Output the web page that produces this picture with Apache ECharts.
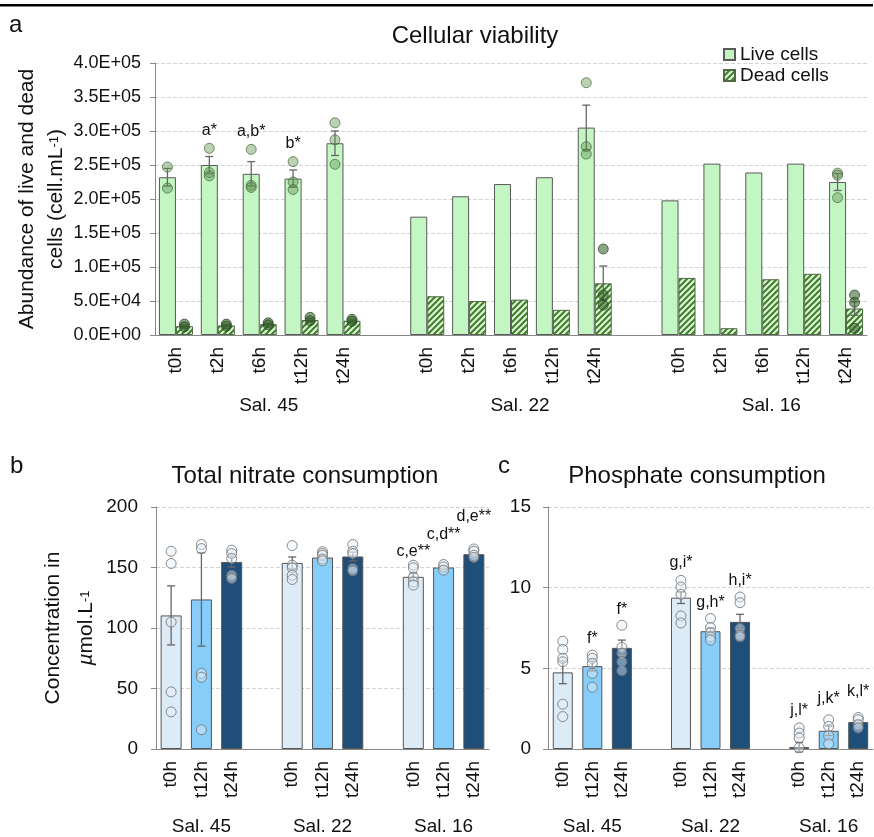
<!DOCTYPE html>
<html>
<head>
<meta charset="utf-8">
<script src="https://cdn.jsdelivr.net/npm/echarts@6/dist/echarts.min.js"></script>
<style>
  html, body { margin: 0; padding: 0; background: #fff; }
  #chart { width: 874px; height: 837px; }
</style>
</head>
<body>
<div id="chart"></div>
<script>
// ---- data ----
const salinities = ['Sal. 45', 'Sal. 22', 'Sal. 16']
const timesA = ['t0h', 't2h', 't6h', 't12h', 't24h']
const timesBC = ['t0h', 't12h', 't24h']

// a: cellular viability (cell.mL-1), 3 salinities x 5 times
const liveCells = [
  232000, 250000, 237000, 230000, 282000,
  174000, 204000, 222000, 232000, 305000,
  198000, 252000, 239000, 252000, 225000,
]
const deadCells = [
  13000, 14000, 16000, 22000, 21000,
  57000, 50000, 52000, 37000, 76000,
  84000, 10000, 82000, 90000, 39000,
]
const liveErr = [
  13000, 12500, 18000, 12700, 18000,
  0, 0, 0, 0, 33000,
  0, 0, 0, 0, 12500,
]
const deadErr = [
  1500, 1200, 1200, 2000, 1200,
  0, 0, 0, 0, 25500,
  0, 0, 0, 0, 10000,
]
const livePoints = [
  [247000, 216000], [274500, 239000, 234000], [273000, 220000, 217000], [255000, 225000, 214000], [312000, 287000, 251000],
  [], [], [], [], [371000, 277000, 266000],
  [], [], [], [], [238000, 235000, 202000],
]
const deadPoints = [
  [16000, 12000], [16000, 13000], [18000, 15000], [26000, 21000], [23000, 20000],
  [], [], [], [], [126500, 59000, 44000],
  [], [], [], [], [58800, 48000, 9800],
]
const liveNotes = ['', 'a*', 'a,b*', 'b*', '', '', '', '', '', '', '', '', '', '', '']

// b: total nitrate consumption (µmol.L-1), 3 salinities x 3 times
const nitrate = [110.4, 123.6, 154.6, 153.8, 158.2, 159.1, 142.3, 150.0, 161.0]
const nitrateErr = [24.4, 38.6, 4.2, 4.9, 2.0, 3.6, 3.0, 1.2, 1.4]
const nitratePoints = [
  [163.4, 153.3, 104.9, 47.2, 30.7],
  [169.0, 165.6, 62.6, 59.3, 15.9],
  [164.3, 161.5, 157.4, 143.6, 140.9],
  [168.1, 151.9, 149.7, 143.6, 140.1],
  [163.0, 161.5, 160.0, 157.0, 155.5],
  [169.0, 163.4, 161.5, 149.2, 147.2],
  [151.9, 149.7, 142.0, 138.1, 135.4],
  [152.5, 150.5, 147.8],
  [165.3, 163.4, 160.1, 158.2],
]
const nitrateNotes = ['', '', '', '', '', '', 'c,e**', 'c,d**', 'd,e**']

// c: phosphate consumption (µmol.L-1)
const phosphate = [4.75, 5.14, 6.27, 9.38, 7.30, 7.88, 0.12, 1.13, 1.67]
const phosphateErr = [0.7, 0.3, 0.48, 0.36, 0.2, 0.47, 0.3, 0.3, 0.12]
const phosphatePoints = [
  [6.68, 6.17, 5.62, 5.41, 2.78, 2.01],
  [5.82, 5.62, 5.31, 4.69, 3.83],
  [7.67, 6.30, 5.93, 5.41, 4.85],
  [10.45, 10.04, 9.59, 8.25, 7.81],
  [8.09, 7.53, 7.20, 6.95, 6.75],
  [9.42, 9.07, 7.47, 7.06, 6.95],
  [1.31, 0.99, 0.68, 0.08],
  [1.81, 1.40, 0.82, 0.33],
  [1.95, 1.81, 1.50, 1.30],
]
const phosphateNotes = ['', 'f*', 'f*', 'g,i*', 'g,h*', 'h,i*', 'j,l*', 'j,k*', 'k,l*']

// ---- helpers ----
const FONT = '"Liberation Sans", Arial, Helvetica, sans-serif'
const timeColors = ['#ddebf7', '#87cdf9', '#1f4e79']

// category labels with an empty slot between salinity groups
const withGaps = (times) => salinities.flatMap((s, gi) => gi < salinities.length - 1 ? [...times, ''] : times)
const groupRow = (times) => salinities.flatMap((s, gi) => {
  const row = times.map((t, ti) => ti === Math.floor(times.length / 2) ? s : '')
  return gi < salinities.length - 1 ? [...row, ''] : row
})
const catIndex = (k, n) => Math.floor(k / n) * (n + 1) + (k % n)
const spread = (vals, n) => {
  const out = []
  vals.forEach((v, k) => { out[catIndex(k, n)] = v })
  for (let i = 0; i < out.length; i++) if (out[i] === undefined) out[i] = '-'
  return out
}
const pointData = (pts, n) => pts.flatMap((list, k) => list.map(v => [catIndex(k, n), v]))
const errData = (vals, errs, n) => vals.map((v, k) => [catIndex(k, n), v, errs[k]]).filter(d => d[2] > 0)
const noteData = (notes, pts, n) => notes.map((t, k) => [catIndex(k, n), Math.max(...pts[k]), k]).filter(d => notes[d[2]])

function hatch() {
  const c = document.createElement('canvas')
  c.width = 6; c.height = 6
  const g = c.getContext('2d')
  g.fillStyle = '#dcf5d3'
  g.fillRect(0, 0, 6, 6)
  g.strokeStyle = '#3f7d2c'
  g.lineWidth = 2
  g.beginPath()
  g.moveTo(0, 6); g.lineTo(6, 0)
  g.moveTo(-3, 3); g.lineTo(3, -3)
  g.moveTo(3, 9); g.lineTo(9, 3)
  g.stroke()
  return c
}

function errorBars(xi, data, shift) {
  return {
    type: 'custom', xAxisIndex: xi, yAxisIndex: xi, z: 3, silent: true,
    encode: { x: 0, y: 1 },
    data,
    renderItem(params, api) {
      const i = api.value(0), m = api.value(1), e = api.value(2)
      const hi = api.coord([i, m + e]), lo = api.coord([i, m - e])
      const x = hi[0] + shift, cap = 4
      const st = { stroke: '#666', lineWidth: 1.3 }
      return {
        type: 'group', children: [
          { type: 'line', shape: { x1: x, y1: hi[1], x2: x, y2: lo[1] }, style: st },
          { type: 'line', shape: { x1: x - cap, y1: hi[1], x2: x + cap, y2: hi[1] }, style: st },
          { type: 'line', shape: { x1: x - cap, y1: lo[1], x2: x + cap, y2: lo[1] }, style: st },
        ],
      }
    },
  }
}

function noteTexts(xi, data, labels, lifts, shift) {
  return {
    type: 'custom', xAxisIndex: xi, yAxisIndex: xi, z: 6, silent: true,
    encode: { x: 0, y: 1 },
    data,
    renderItem(params, api) {
      const k = api.value(2)
      const p = api.coord([api.value(0), api.value(1)])
      return {
        type: 'text', x: p[0] + shift, y: p[1] - lifts[k],
        style: { text: labels[k], fill: '#111', font: '16px ' + FONT, align: 'center', verticalAlign: 'middle' },
      }
    },
  }
}

const pointStyle = { color: 'rgba(228,238,250,0.55)', borderColor: '#6f6f6f', borderWidth: 1 }

function catAxis(grid, data, extra) {
  return Object.assign({
    type: 'category', gridIndex: grid, data,
    axisLine: { lineStyle: { color: '#888' } },
    axisTick: { alignWithLabel: true, length: 5, lineStyle: { color: '#888' } },
    axisLabel: { interval: 0, rotate: 90, fontSize: 19, color: '#111', margin: 12, fontFamily: FONT },
  }, extra)
}
function groupAxis(grid, data, offset, pad) {
  return {
    type: 'category', gridIndex: grid, data, position: 'bottom', offset,
    axisLine: { show: false }, axisTick: { show: false }, splitLine: { show: false },
    axisLabel: { interval: 0, fontSize: 19, color: '#111', margin: 8, fontFamily: FONT, padding: [0, 0, 0, pad] },
  }
}
function valAxis(grid, max, interval, extra) {
  return Object.assign({
    type: 'value', gridIndex: grid, min: 0, max, interval,
    nameMoveOverlap: false,
    axisLine: { show: true, lineStyle: { color: '#888' } },
    axisTick: { show: true, length: 5, lineStyle: { color: '#888' } },
    splitLine: { lineStyle: { color: '#d4d4d4', type: 'dashed' } },
  }, extra)
}

const sci = (v) => {
  if (v === 0) return '0.0E+00'
  const e = Math.floor(Math.log10(v) + 1e-9)
  return (v / Math.pow(10, e)).toFixed(1) + 'E+' + String(e).padStart(2, '0')
}

const nA = timesA.length, nB = timesBC.length
const liftA = liveNotes.map(() => 18)
const liftB = [0, 0, 0, 0, 0, 0, 14, 30, 32]
const liftC = [0, 17, 16, 18, 16, 16, 17, 21, 26]

const chart = echarts.init(document.getElementById('chart'))
chart.setOption({
  animation: false,
  textStyle: { fontFamily: FONT },
  graphic: [
    { type: 'rect', shape: { x: 0, y: 4, width: 873, height: 2.5 }, style: { fill: '#000' } },
    { type: 'text', x: 9, y: 25, style: { text: 'a', font: '24px ' + FONT, fill: '#111', verticalAlign: 'middle' } },
    { type: 'text', x: 10, y: 466, style: { text: 'b', font: '24px ' + FONT, fill: '#111', verticalAlign: 'middle' } },
    { type: 'text', x: 498, y: 466, style: { text: 'c', font: '24px ' + FONT, fill: '#111', verticalAlign: 'middle' } },
    { type: 'text', x: 475, y: 36, style: { text: 'Cellular viability', font: '24px ' + FONT, fill: '#111', align: 'center', verticalAlign: 'middle' } },
    { type: 'text', x: 305, y: 476, style: { text: 'Total nitrate consumption', font: '24px ' + FONT, fill: '#111', align: 'center', verticalAlign: 'middle' } },
    { type: 'text', x: 697, y: 476, style: { text: 'Phosphate consumption', font: '24px ' + FONT, fill: '#111', align: 'center', verticalAlign: 'middle' } },
  ],
  legend: {
    data: ['Live cells', 'Dead cells'], orient: 'vertical', left: 718, top: 40,
    icon: 'rect', itemWidth: 11, itemHeight: 11, itemGap: 2,
    textStyle: { fontSize: 19, color: '#111', fontFamily: FONT },
  },
  grid: [
    { left: 155, top: 63, width: 712, height: 272 },
    { left: 156, top: 507, width: 333, height: 242 },
    { left: 548, top: 507, width: 325, height: 242 },
  ],
  xAxis: [
    catAxis(0, withGaps(timesA)),
    catAxis(1, withGaps(timesBC)),
    catAxis(2, withGaps(timesBC)),
    groupAxis(0, groupRow(timesA), 53, 18),
    groupAxis(1, groupRow(timesBC), 60, 0),
    groupAxis(2, groupRow(timesBC), 60, 0),
  ],
  yAxis: [
    valAxis(0, 400000, 50000, {
      axisLabel: { fontSize: 18, color: '#111', margin: 14, formatter: sci, fontFamily: FONT },
      name: '{t|Abundance of live and dead}\n{t|cells (cell.mL}{s|-1}{t|)}',
      nameLocation: 'middle', nameGap: 84,
      nameTextStyle: {
        rich: {
          t: { fontSize: 21, color: '#111', fontFamily: FONT, lineHeight: 29 },
          s: { fontSize: 13, color: '#111', fontFamily: FONT, verticalAlign: 'bottom', padding: [0, 0, 10, 0], lineHeight: 29 },
        },
      },
    }),
    valAxis(1, 200, 50, {
      axisLabel: { fontSize: 19, color: '#111', margin: 18, fontFamily: FONT },
      name: '{t|Concentration in}\n{i|µ}{t|mol.L}{s|-1}',
      nameLocation: 'middle', nameGap: 53,
      nameTextStyle: {
        rich: {
          t: { fontSize: 21, color: '#111', fontFamily: FONT, lineHeight: 33 },
          i: { fontSize: 21, color: '#111', fontFamily: FONT, fontStyle: 'italic', lineHeight: 33 },
          s: { fontSize: 13, color: '#111', fontFamily: FONT, verticalAlign: 'bottom', padding: [0, 0, 11, 0], lineHeight: 33 },
        },
      },
    }),
    valAxis(2, 15, 5, {
      axisLabel: { fontSize: 19, color: '#111', margin: 17, fontFamily: FONT },
    }),
  ],
  series: [
    {
      name: 'Live cells', type: 'bar', xAxisIndex: 0, yAxisIndex: 0, z: 2,
      barWidth: 17, barGap: '0%',
      itemStyle: { color: '#c3f6c3', borderColor: '#5a5a5a', borderWidth: 1 },
      data: spread(liveCells, nA),
    },
    {
      name: 'Dead cells', type: 'bar', xAxisIndex: 0, yAxisIndex: 0, z: 2,
      barWidth: 17, barGap: '0%',
      itemStyle: { color: { image: hatch(), repeat: 'repeat' }, borderColor: '#4e6a44', borderWidth: 1 },
      data: spread(deadCells, nA),
    },
    errorBars(0, errData(liveCells, liveErr, nA), -8.5),
    errorBars(0, errData(deadCells, deadErr, nA), 8.5),
    {
      type: 'scatter', xAxisIndex: 0, yAxisIndex: 0, z: 4, silent: true,
      symbolSize: 10, symbolOffset: [-8.5, 0],
      itemStyle: { color: 'rgba(100,150,85,0.55)', borderColor: 'rgba(70,105,60,0.9)', borderWidth: 1 },
      data: pointData(livePoints, nA),
    },
    {
      type: 'scatter', xAxisIndex: 0, yAxisIndex: 0, z: 4, silent: true,
      symbolSize: 10, symbolOffset: [8.5, 0],
      itemStyle: { color: 'rgba(50,95,38,0.7)', borderColor: 'rgba(35,70,28,0.9)', borderWidth: 1 },
      data: pointData(deadPoints, nA),
    },
    noteTexts(0, noteData(liveNotes, livePoints, nA), liveNotes, liftA, -8.5),

    {
      type: 'bar', xAxisIndex: 1, yAxisIndex: 1, z: 2, barWidth: 21,
      itemStyle: { borderColor: '#555', borderWidth: 1 },
      data: spread(nitrate.map((v, k) => ({ value: v, itemStyle: { color: timeColors[k % nB] } })), nB),
    },
    errorBars(1, errData(nitrate, nitrateErr, nB), 0),
    {
      type: 'scatter', xAxisIndex: 1, yAxisIndex: 1, z: 4, silent: true, symbolSize: 10,
      itemStyle: pointStyle, data: pointData(nitratePoints, nB),
    },
    noteTexts(1, noteData(nitrateNotes, nitratePoints, nB), nitrateNotes, liftB, 0),

    {
      type: 'bar', xAxisIndex: 2, yAxisIndex: 2, z: 2, barWidth: 20,
      itemStyle: { borderColor: '#555', borderWidth: 1 },
      data: spread(phosphate.map((v, k) => ({ value: v, itemStyle: { color: timeColors[k % nB] } })), nB),
    },
    errorBars(2, errData(phosphate, phosphateErr, nB), 0),
    {
      type: 'scatter', xAxisIndex: 2, yAxisIndex: 2, z: 4, silent: true, symbolSize: 10,
      itemStyle: pointStyle, data: pointData(phosphatePoints, nB),
    },
    noteTexts(2, noteData(phosphateNotes, phosphatePoints, nB), phosphateNotes, liftC, 0),
  ],
})
</script>
</body>
</html>
